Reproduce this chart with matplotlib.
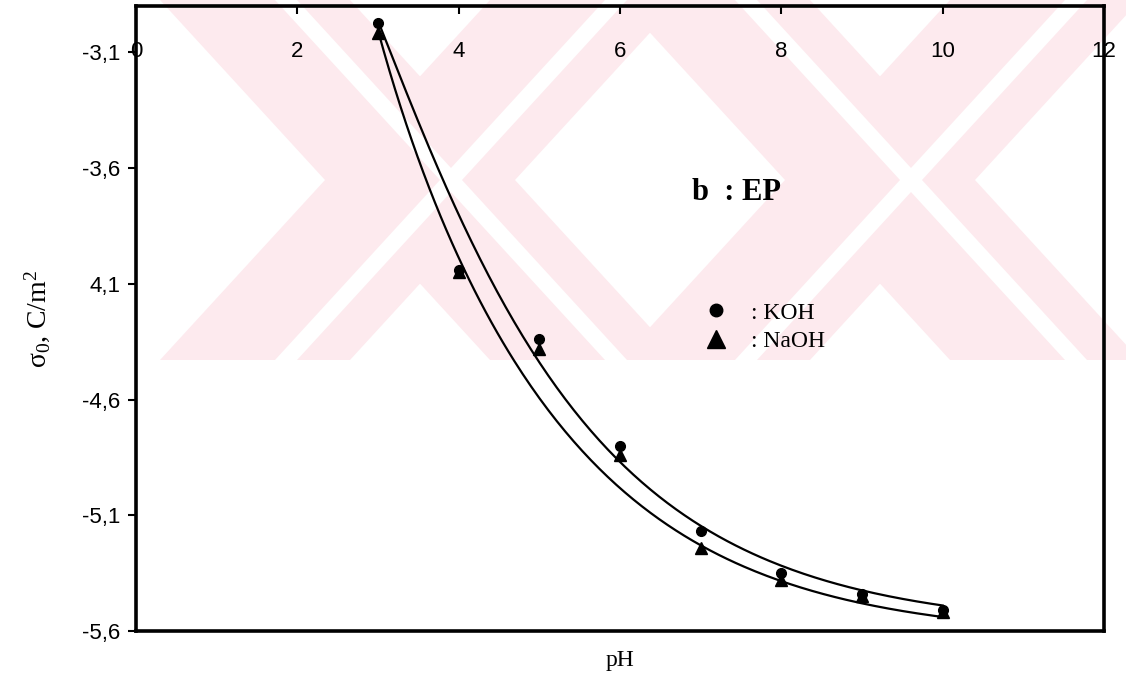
import numpy as np
import matplotlib.pyplot as plt
from matplotlib.patches import Polygon
from matplotlib.lines import Line2D

plt.rcParams['mathtext.fontset'] = 'custom'
plt.rcParams['mathtext.rm'] = 'Liberation Serif'
plt.rcParams['mathtext.default'] = 'regular'

# measured points
ph = [3, 4, 5, 6, 7, 8, 9, 10]
sigma_koh = [-2.975, -4.04, -4.34, -4.80, -5.17, -5.35, -5.44, -5.51]
sigma_naoh = [-3.018, -4.05, -4.38, -4.84, -5.24, -5.38, -5.45, -5.52]

# the two drawn trend curves
curve_koh_ph = [3.0, 3.58, 3.95, 4.26, 4.76, 5.11, 5.50, 6.06, 7.05, 8.04, 9.03, 10.0]
curve_koh_sigma = [-2.97, -3.45, -3.74, -4.03, -4.32, -4.50, -4.68, -4.85, -5.16, -5.32, -5.43, -5.50]
curve_naoh_ph = [3.0, 3.42, 3.73, 4.01, 4.41, 4.84, 5.50, 6.04, 7.05, 8.04, 9.03, 10.0]
curve_naoh_sigma = [-3.02, -3.45, -3.74, -4.03, -4.32, -4.50, -4.80, -4.96, -5.24, -5.40, -5.49, -5.54]

xtick_values = [0, 2, 4, 6, 8, 10, 12]
ytick_values = [-5.6, -5.1, -4.6, -4.1, -3.6, -3.1]
ytick_labels = ['-5,6', '-5,1', '-4,6', '4,1', '-3,6', '-3,1']

W, H = 1126, 678
fig = plt.figure(figsize=(W / 100, H / 100), dpi=100)

# background watermark (two pale pink crossed bands), in pixel units
bg = fig.add_axes([0, 0, 1, 1], zorder=-1)
bg.set_xlim(0, W)
bg.set_ylim(H, 0)
bg.axis('off')
pink = '#fdeaee'
wm_bottom = 360
for cx in [420, 880]:
    for top_c, bot_c in [(cx - 165, cx + 165), (cx + 165, cx - 165)]:
        bg.add_patch(Polygon([(top_c - 95, 0), (top_c + 95, 0),
                              (bot_c + 95, wm_bottom), (bot_c - 95, wm_bottom)],
                             facecolor=pink, edgecolor='none'))
for cx in [420, 880]:
    for top_c, bot_c in [(cx - 165, cx + 165), (cx + 165, cx - 165)]:
        bg.add_patch(Polygon([(top_c + 20, 0), (top_c + 42, 0),
                              (bot_c + 42, wm_bottom), (bot_c + 20, wm_bottom)],
                             facecolor='white', edgecolor='none'))

ax = fig.add_axes([136 / W, 1 - 631 / H, (1104 - 136) / W, (631 - 6) / H])
ax.set_facecolor('none')

# trend curves: smooth fit through the read values (cubic in exp(-pH/2))
xs = np.linspace(3, 10, 200)
for cx, cy in [(curve_koh_ph, curve_koh_sigma), (curve_naoh_ph, curve_naoh_sigma)]:
    t = np.exp(-np.array(cx) / 2)
    coef = np.polyfit(t, cy, 3)
    ax.plot(xs, np.polyval(coef, np.exp(-xs / 2)), color='black', lw=1.6, zorder=2)

ax.plot(ph, sigma_koh, linestyle='none', marker='o', ms=7, color='black', zorder=3)
ax.plot(ph, sigma_naoh, linestyle='none', marker='^', ms=8, color='black', zorder=3)

ax.set_xlim(0, 12)
ax.set_ylim(-5.6, -2.9)

serif = 'Liberation Serif'
ax.set_xticks(xtick_values)
ax.set_yticks(ytick_values)
ax.set_yticklabels(ytick_labels)
ax.tick_params(axis='x', top=True, bottom=False, labeltop=True, labelbottom=False,
               direction='in', length=6, width=1.5, pad=-40, labelsize=16)
ax.tick_params(axis='y', direction='out', length=6, width=1.5, pad=5, labelsize=16)
for lab in ax.get_xticklabels() + ax.get_yticklabels():
    lab.set_fontfamily('Liberation Sans')

for s in ax.spines.values():
    s.set_linewidth(2.6)

ax.xaxis.set_label_position('bottom')
ax.set_xlabel('pH', fontsize=17, family=serif, labelpad=14)
ax.set_ylabel('σ$_0$, C/m$^2$', fontsize=20, family=serif, labelpad=22)

ax.text(0.574, 0.702, 'b  : EP', transform=ax.transAxes, fontsize=22,
        fontweight='bold', family=serif, va='center')

leg_handles = [Line2D([], [], linestyle='none', marker='o', ms=9, color='black'),
               Line2D([], [], linestyle='none', marker='^', ms=13, color='black')]
ax.legend(leg_handles, [': KOH', ': NaOH'], loc='center left',
          bbox_to_anchor=(0.565, 0.486), frameon=False,
          handlelength=1.0, handletextpad=1.0, labelspacing=0.3,
          prop={'family': serif, 'size': 17})

fig.savefig('out.png', dpi=100)
